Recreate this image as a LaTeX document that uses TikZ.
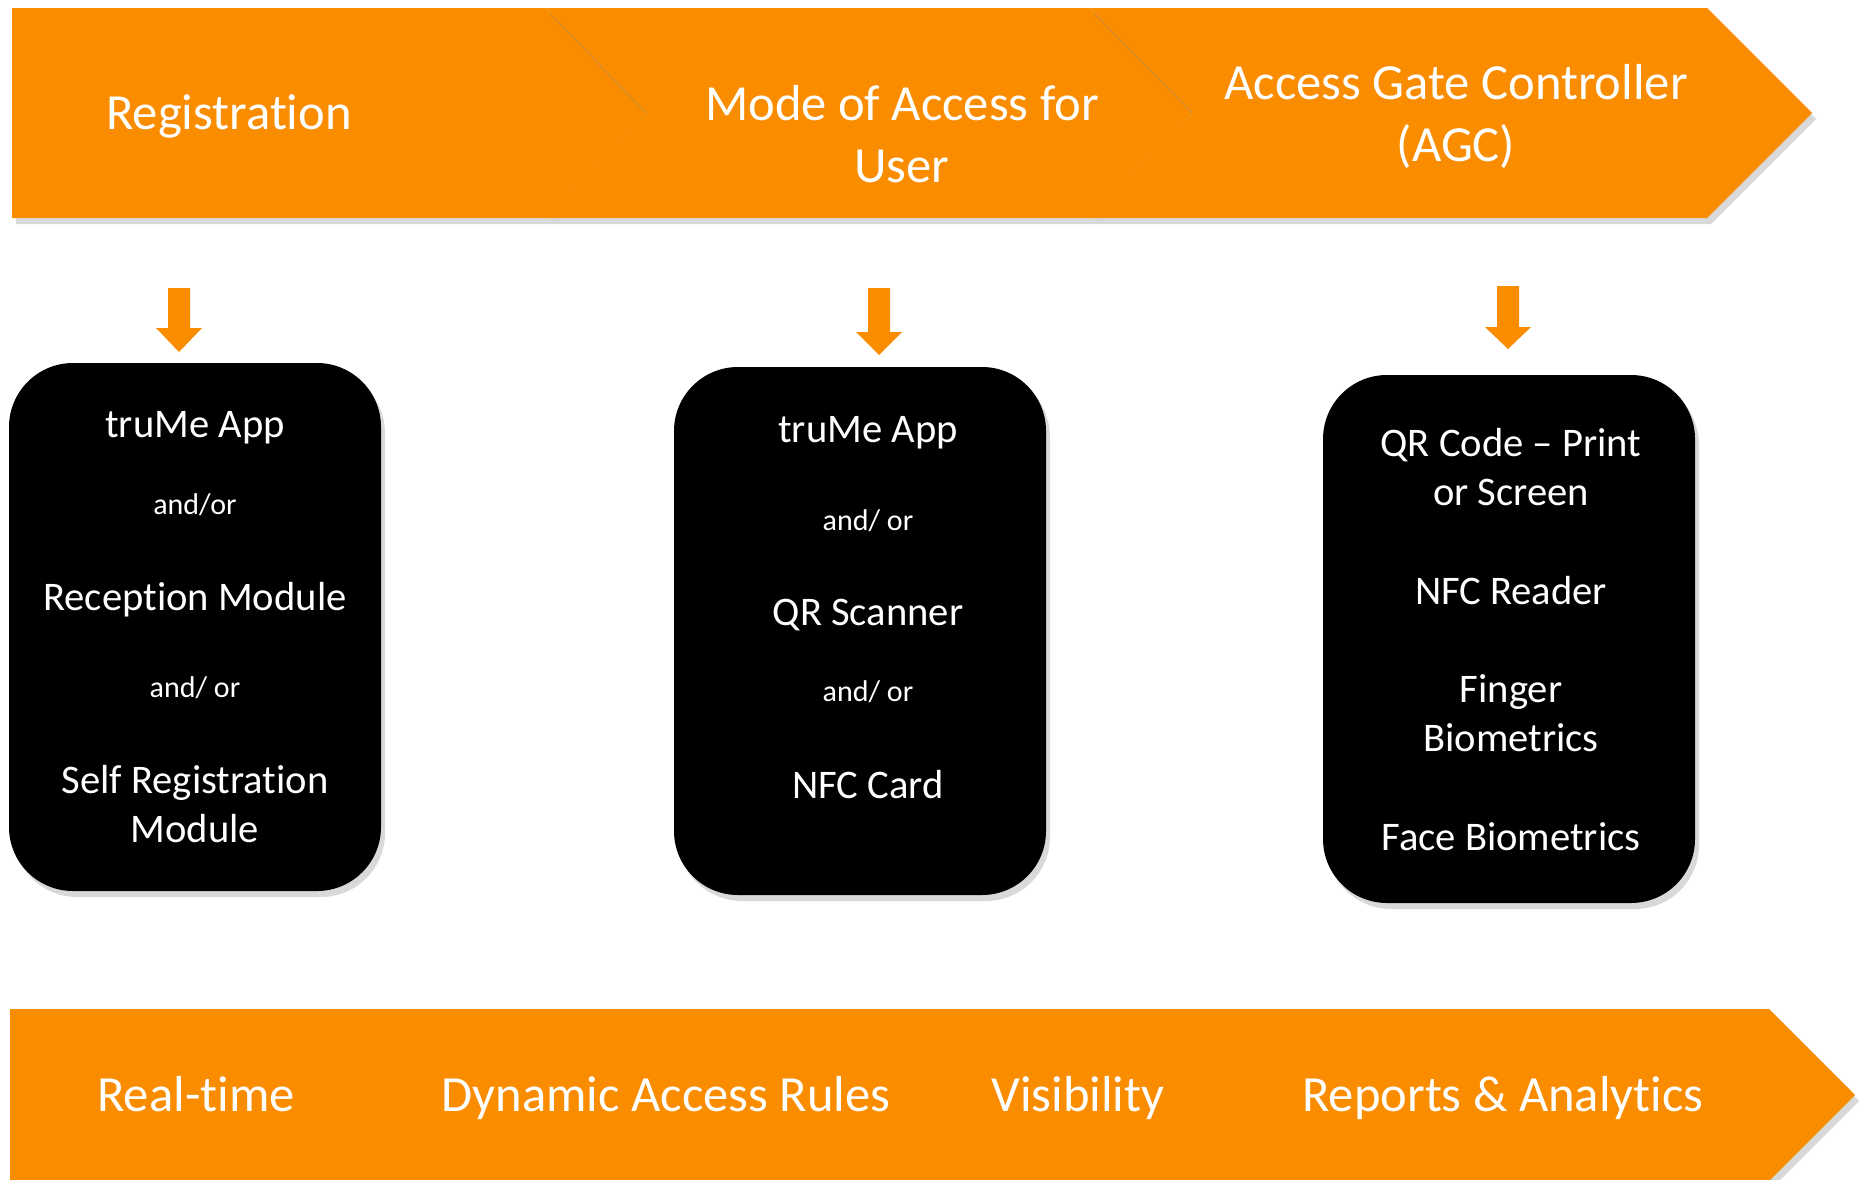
\documentclass[tikz,border=0pt]{standalone}
\usepackage{fontspec}
\setmainfont{Carlito}[Ligatures={NoCommon}]
\usetikzlibrary{shadows, positioning}
\definecolor{bandorange}{RGB}{250,140,0}
\tikzset{
    band/.style={fill=bandorange, drop shadow={opacity=0.3, shadow xshift=2pt, shadow yshift=-3pt}},
    bandtext/.style={text=white, align=center, font=\fontsize{25.3}{31}\selectfont},
    devbox/.style={fill=black, rounded corners=32pt, minimum width=186pt, minimum height=264pt,
        drop shadow={opacity=0.3, shadow xshift=2pt, shadow yshift=-3pt}},
    item/.style={text=white, align=center, font=\fontsize{20.3}{24.5}\selectfont},
    joiner/.style={text=white, font=\fontsize{15}{18}\selectfont},
    bigline/.style={text height=16.7pt, text depth=0pt},
    smallline/.style={text height=13.4pt, text depth=0pt},
    downarrow/.style={fill=bandorange},
}
\begin{document}
\begin{tikzpicture}[x=0.5pt, y=-0.5pt]
    \useasboundingbox (0,0) rectangle (1862,1179);
    % process chevrons
    \path[band] (12,8) -- (546,8) -- (647,113) -- (546,218) -- (12,218) -- cycle;
    \path[band] (546,8) -- (1090,8) -- (1193,113) -- (1090,218) -- (546,218) -- (647,113) -- cycle;
    \path[band] (1090,8) -- (1707,8) -- (1812,113) -- (1707,218) -- (1090,218) -- (1193,113) -- cycle;
    \node[bandtext, bigline] (reg) at (229,113) {Registration};
    \node[bandtext] (mode) at (902,134) {Mode of Access for\\User};
    \node[bandtext] (agc) at (1456,116) {Access Gate Controller\\(AGC)};
    % arrows
    \foreach \x/\top/\base/\tip in {179/288/328/352, 879/288/332/355, 1508/286/327/349} {
        \fill[downarrow] (\x-11,\top) -- (\x+11,\top) -- (\x+11,\base) -- (\x+23,\base)
            -- (\x,\tip) -- (\x-23,\base) -- (\x-11,\base) -- cycle;
    }
    % boxes
    \node[devbox] (regbox) at (195,627) {};
    \node[devbox] (modebox) at (860,631) {};
    \node[devbox] (agcbox) at (1509,639) {};
    \node[item, smallline] (r1) at (195,424) {truMe App};
    \node[joiner] (r2) at (195,505) {and/or};
    \node[item, smallline] (r3) at (195,597) {Reception Module};
    \node[joiner] (r4) at (195,688) {and/ or};
    \node[item] (r5) at (195,804) {Self Registration\\Module};
    \node[item, smallline] (m1) at (868,429) {truMe App};
    \node[joiner] (m2) at (868,521) {and/ or};
    \node[item, smallline] (m3) at (868,612) {QR Scanner};
    \node[joiner] (m4) at (868,692) {and/ or};
    \node[item, smallline] (m5) at (868,785) {NFC Card};
    \node[item] (a1) at (1511,467) {QR Code – Print\\or Screen};
    \node[item, smallline] (a2) at (1511,591) {NFC Reader};
    \node[item] (a3) at (1511,713) {Finger\\Biometrics};
    \node[item, smallline] (a4) at (1511,837) {Face Biometrics};
    % feature band
    \path[band] (10,1009) -- (1769,1009) -- (1855,1095) -- (1769,1181) -- (10,1181) -- cycle;
    \foreach \x/\name/\txt in {196/rt/Real-time, 666/dar/Dynamic Access Rules, 1078/vis/Visibility, 1503/rep/Reports \& Analytics} {
        \node[bandtext, bigline] (\name) at (\x,1095) {\txt};
    }
\end{tikzpicture}
\end{document}
